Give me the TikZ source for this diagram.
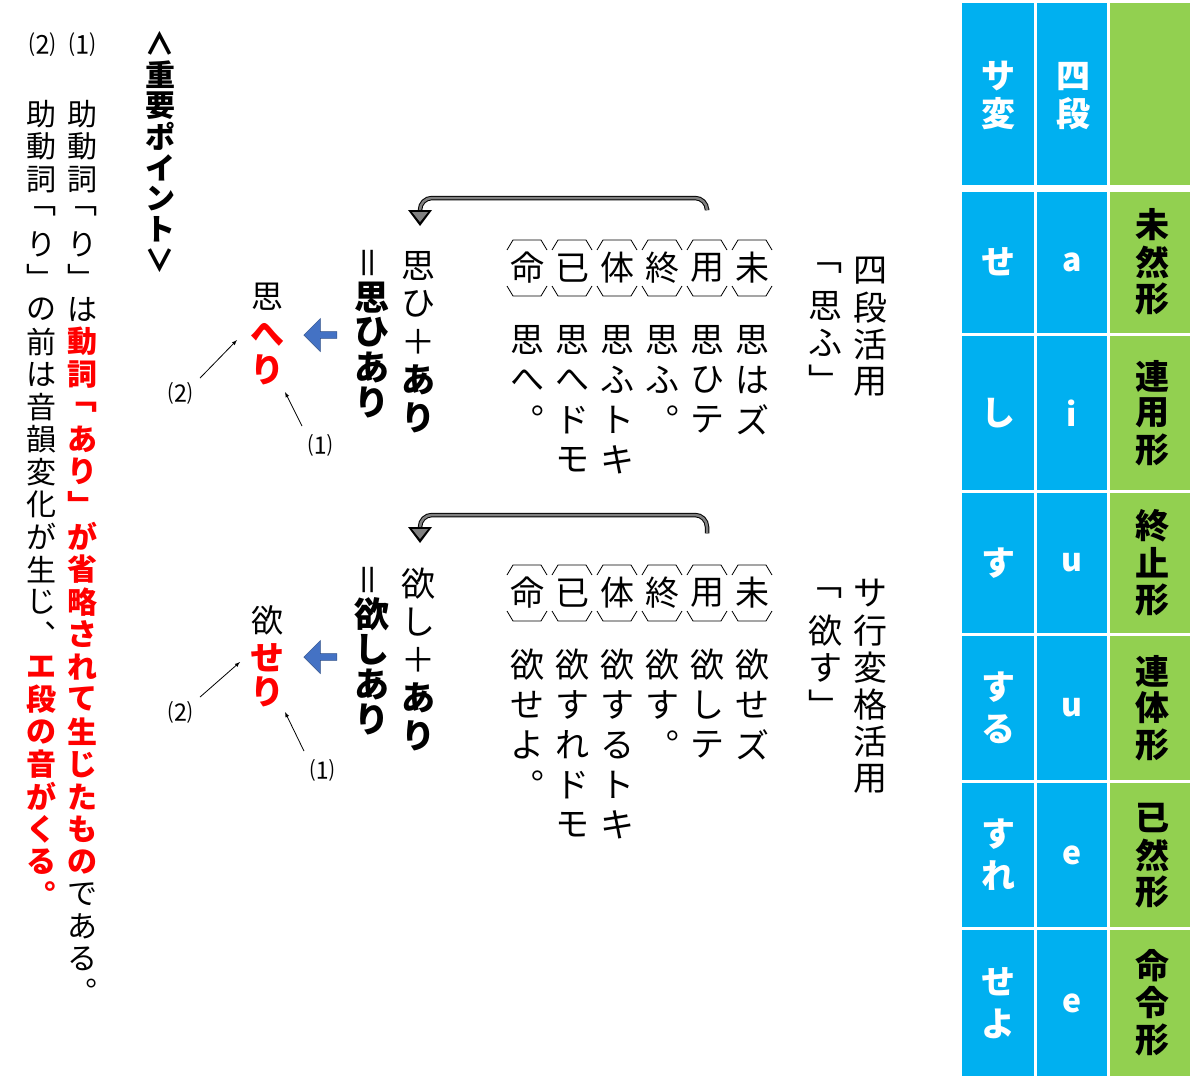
\documentclass[tikz,border=0pt]{standalone}
\usepackage{fontspec}
\setmainfont{Noto Sans CJK JP}
\usetikzlibrary{shapes.arrows}
\definecolor{cblue}{HTML}{00B0F0}
\definecolor{cgreen}{HTML}{92D050}
\definecolor{aro}{HTML}{4472C4}
\ExplSyntaxOn
\NewDocumentCommand\vt{mm}{\vbox{\offinterlineskip\exp_args:No\tl_map_inline:nn{#2}{\hbox to 2em{\hss\vbox to #1{\vss\hbox{##1}\vss}\hss}}}}
\ExplSyntaxOff
\newcommand\fs[1]{\fontsize{#1}{#1}\selectfont}
\newcommand\myeq{\rotatebox[origin=c]{90}{＝}}
\newcommand\myl{\rotatebox[origin=c]{-90}{＜}}
\newcommand\myr{\rotatebox[origin=c]{-90}{＞}}
\begin{document}
\begin{tikzpicture}[x=1pt,y=-1pt,
  every node/.style={inner sep=0pt,outer sep=0pt},
  vtx/.style={anchor=north},
  bx/.pic={\node[font=\fs{34}] (-c) at (0,0) {#1};
    \draw[line width=0.8pt] (-20,-18)--(-14,-28)--(14,-28)--(20,-18);
    \draw[line width=0.8pt] (-20,18)--(-14,28)--(14,28)--(20,18);},
  blarr/.style={single arrow,fill=aro,draw=aro!70!black,line width=0.5pt,shape border rotate=180,minimum width=33pt,minimum height=33pt,single arrow head extend=1pt},
  sm/.style={-{latex},line width=0.8pt}]
\useasboundingbox (0,0) rectangle (1197,1081);
% ---------- table ----------
\fill[cblue] (962,3) rectangle (1034,185);
\fill[cblue] (1037,3) rectangle (1107,185);
\fill[cgreen] (1110,3) rectangle (1190,185);
\foreach \a/\b in {192/333,336/490,493/633,636/780,783/927,930/1076}{
  \fill[cblue] (962,\a) rectangle (1034,\b);
  \fill[cblue] (1037,\a) rectangle (1107,\b);
  \fill[cgreen] (1110,\a) rectangle (1190,\b);}
\node[vtx,text=white,font=\fs{34}\bfseries] (hs) at (998,58) {\vt{37pt}{サ変}};
\node[vtx,text=white,font=\fs{34}\bfseries] (hy) at (1073,58) {\vt{37pt}{四段}};
\foreach \n/\y/\s/\l/\g in {1/262/せ/a/未然形,2/413/し/i/連用形,3/563/す/u/終止形,4/708/する/u/連体形,5/855/すれ/e/已然形,6/1003/せよ/e/命令形}{
  \node[text=white,font=\fs{34}\bfseries] (s\n) at (998,\y) {\vt{42pt}{\s}};
  \node[text=white,font=\fs{32}\bfseries] (v\n) at (1072,\y) {\l};
  \node[font=\fs{34}\bfseries] (g\n) at (1152,\y) {\vt{37pt}{\g}};}
% ---------- section 1 ----------
\node[vtx,font=\fs{34}] (t1) at (870,252) {\vt{37pt}{四段活用}};
\node[vtx,font=\fs{34}] (q1) at (825,250) {\vt{37pt}{﹁思ふ﹂}};
\pic (m1) at (752,268) {bx=未};
\pic (y1) at (707,268) {bx=用};
\pic (e1) at (662,268) {bx=終};
\pic (h1) at (617,268) {bx=体};
\pic (k1) at (572,268) {bx=已};
\pic (r1) at (527,268) {bx=命};
\foreach \n/\x/\w in {a/752/思はズ,b/707/思ひテ,c/662/思ふ︒,d/617/思ふトキ,e/572/思へドモ,f/527/思へ︒}
  \node[vtx,font=\fs{34}] (c1\n) at (\x,320) {\vt{40pt}{\w}};
\node[vtx,font=\fs{34}] (p1) at (418,247) {\vt{38pt}{思ひ＋{\bfseries あ}{\bfseries り}}};
\node[vtx,font=\fs{35}\bfseries] (z1) at (372,245) {\vt{35pt}{{\mdseries\myeq}思ひあり}};
\node[blarr] (ba1) at (322,335) {};
\node[font=\fs{32}] (o1) at (267,297) {思};
\node[font=\fs{34}\bfseries,text=red] (he1) at (267,335) {へ};
\node[font=\fs{34}\bfseries,text=red] (ri1) at (267,370) {り};
\node[font=\fs{24}] (l21) at (180,393) {⑵};
\node[font=\fs{24}] (l11) at (320,445) {⑴};
\draw[sm] (l21.north east) ++(8,-4) coordinate (a21) -- (237,340);
\draw[sm] (l11.north west) ++(-6,-8) coordinate (a11) -- (285,392);
\draw[line width=4.5pt,rounded corners=12pt] (y1-c.north) ++(0,-45) coordinate (s1) -- (707,198) -- (420,198) -- (420,213);
\draw[line width=2.5pt,gray,rounded corners=12pt] (s1) -- (707,198) -- (420,198) -- (420,213);
\fill[black] (408,210) -- (432,210) -- (420,226) -- cycle;
\fill[gray] (412,212) -- (428,212) -- (420,222) -- cycle;
% ---------- section 2 ----------
\node[vtx,font=\fs{34}] (t2) at (870,575) {\vt{37pt}{サ行変格活用}};
\node[vtx,font=\fs{34}] (q2) at (825,575) {\vt{37pt}{﹁欲す﹂}};
\pic (m2) at (752,593) {bx=未};
\pic (y2) at (707,593) {bx=用};
\pic (e2) at (662,593) {bx=終};
\pic (h2) at (617,593) {bx=体};
\pic (k2) at (572,593) {bx=已};
\pic (r2) at (527,593) {bx=命};
\foreach \n/\x/\w in {a/752/欲せズ,b/707/欲しテ,c/662/欲す︒,d/617/欲するトキ,e/572/欲すれドモ,f/527/欲せよ︒}
  \node[vtx,font=\fs{34}] (c2\n) at (\x,645) {\vt{40pt}{\w}};
\node[vtx,font=\fs{34}] (p2) at (418,565) {\vt{38pt}{欲し＋{\bfseries あ}{\bfseries り}}};
\node[vtx,font=\fs{35}\bfseries] (z2) at (372,562) {\vt{35pt}{{\mdseries\myeq}欲しあり}};
\node[blarr] (ba2) at (322,657) {};
\node[font=\fs{32}] (o2) at (267,620) {欲};
\node[font=\fs{34}\bfseries,text=red] (he2) at (267,658) {せ};
\node[font=\fs{34}\bfseries,text=red] (ri2) at (267,692) {り};
\node[font=\fs{24}] (l22) at (180,712) {⑵};
\node[font=\fs{24}] (l12) at (322,770) {⑴};
\draw[sm] (l22.north east) ++(8,-4) coordinate (a22) -- (240,662);
\draw[sm] (l12.north west) ++(-6,-8) coordinate (a12) -- (285,712);
\draw[line width=4.5pt,rounded corners=12pt] (y2-c.north) ++(0,-45) coordinate (s2) -- (707,515) -- (420,515) -- (420,530);
\draw[line width=2.5pt,gray,rounded corners=12pt] (s2) -- (707,515) -- (420,515) -- (420,530);
\fill[black] (408,527) -- (432,527) -- (420,543) -- cycle;
\fill[gray] (412,529) -- (428,529) -- (420,539) -- cycle;
% ---------- left notes ----------
\node[vtx,font=\fs{30}\bfseries] (kp) at (160,28) {\vt{31pt}{{\myl}重要ポイント{\myr}}};
\node[font=\fs{26}] (n1) at (82,45) {⑴};
\node[font=\fs{26}] (n2) at (42,45) {⑵};
\node[vtx,font=\fs{30}] (b1) at (82,98) {\vt{32.5pt}{助動詞﹁り﹂は{\color{red}\bfseries 動}{\color{red}\bfseries 詞}{\color{red}\bfseries ﹁}{\color{red}\bfseries あ}{\color{red}\bfseries り}{\color{red}\bfseries ﹂}{\color{red}\bfseries が}{\color{red}\bfseries 省}{\color{red}\bfseries 略}{\color{red}\bfseries さ}{\color{red}\bfseries れ}{\color{red}\bfseries て}{\color{red}\bfseries 生}{\color{red}\bfseries じ}{\color{red}\bfseries た}{\color{red}\bfseries も}{\color{red}\bfseries の}である︒}};
\node[vtx,font=\fs{30}] (b2) at (42,98) {\vt{32.5pt}{助動詞﹁り﹂の前は音韻変化が生じ︑{\color{red}\bfseries エ}{\color{red}\bfseries 段}{\color{red}\bfseries の}{\color{red}\bfseries 音}{\color{red}\bfseries が}{\color{red}\bfseries く}{\color{red}\bfseries る}{\color{red}\bfseries ︒}}};
\end{tikzpicture}
\end{document}
